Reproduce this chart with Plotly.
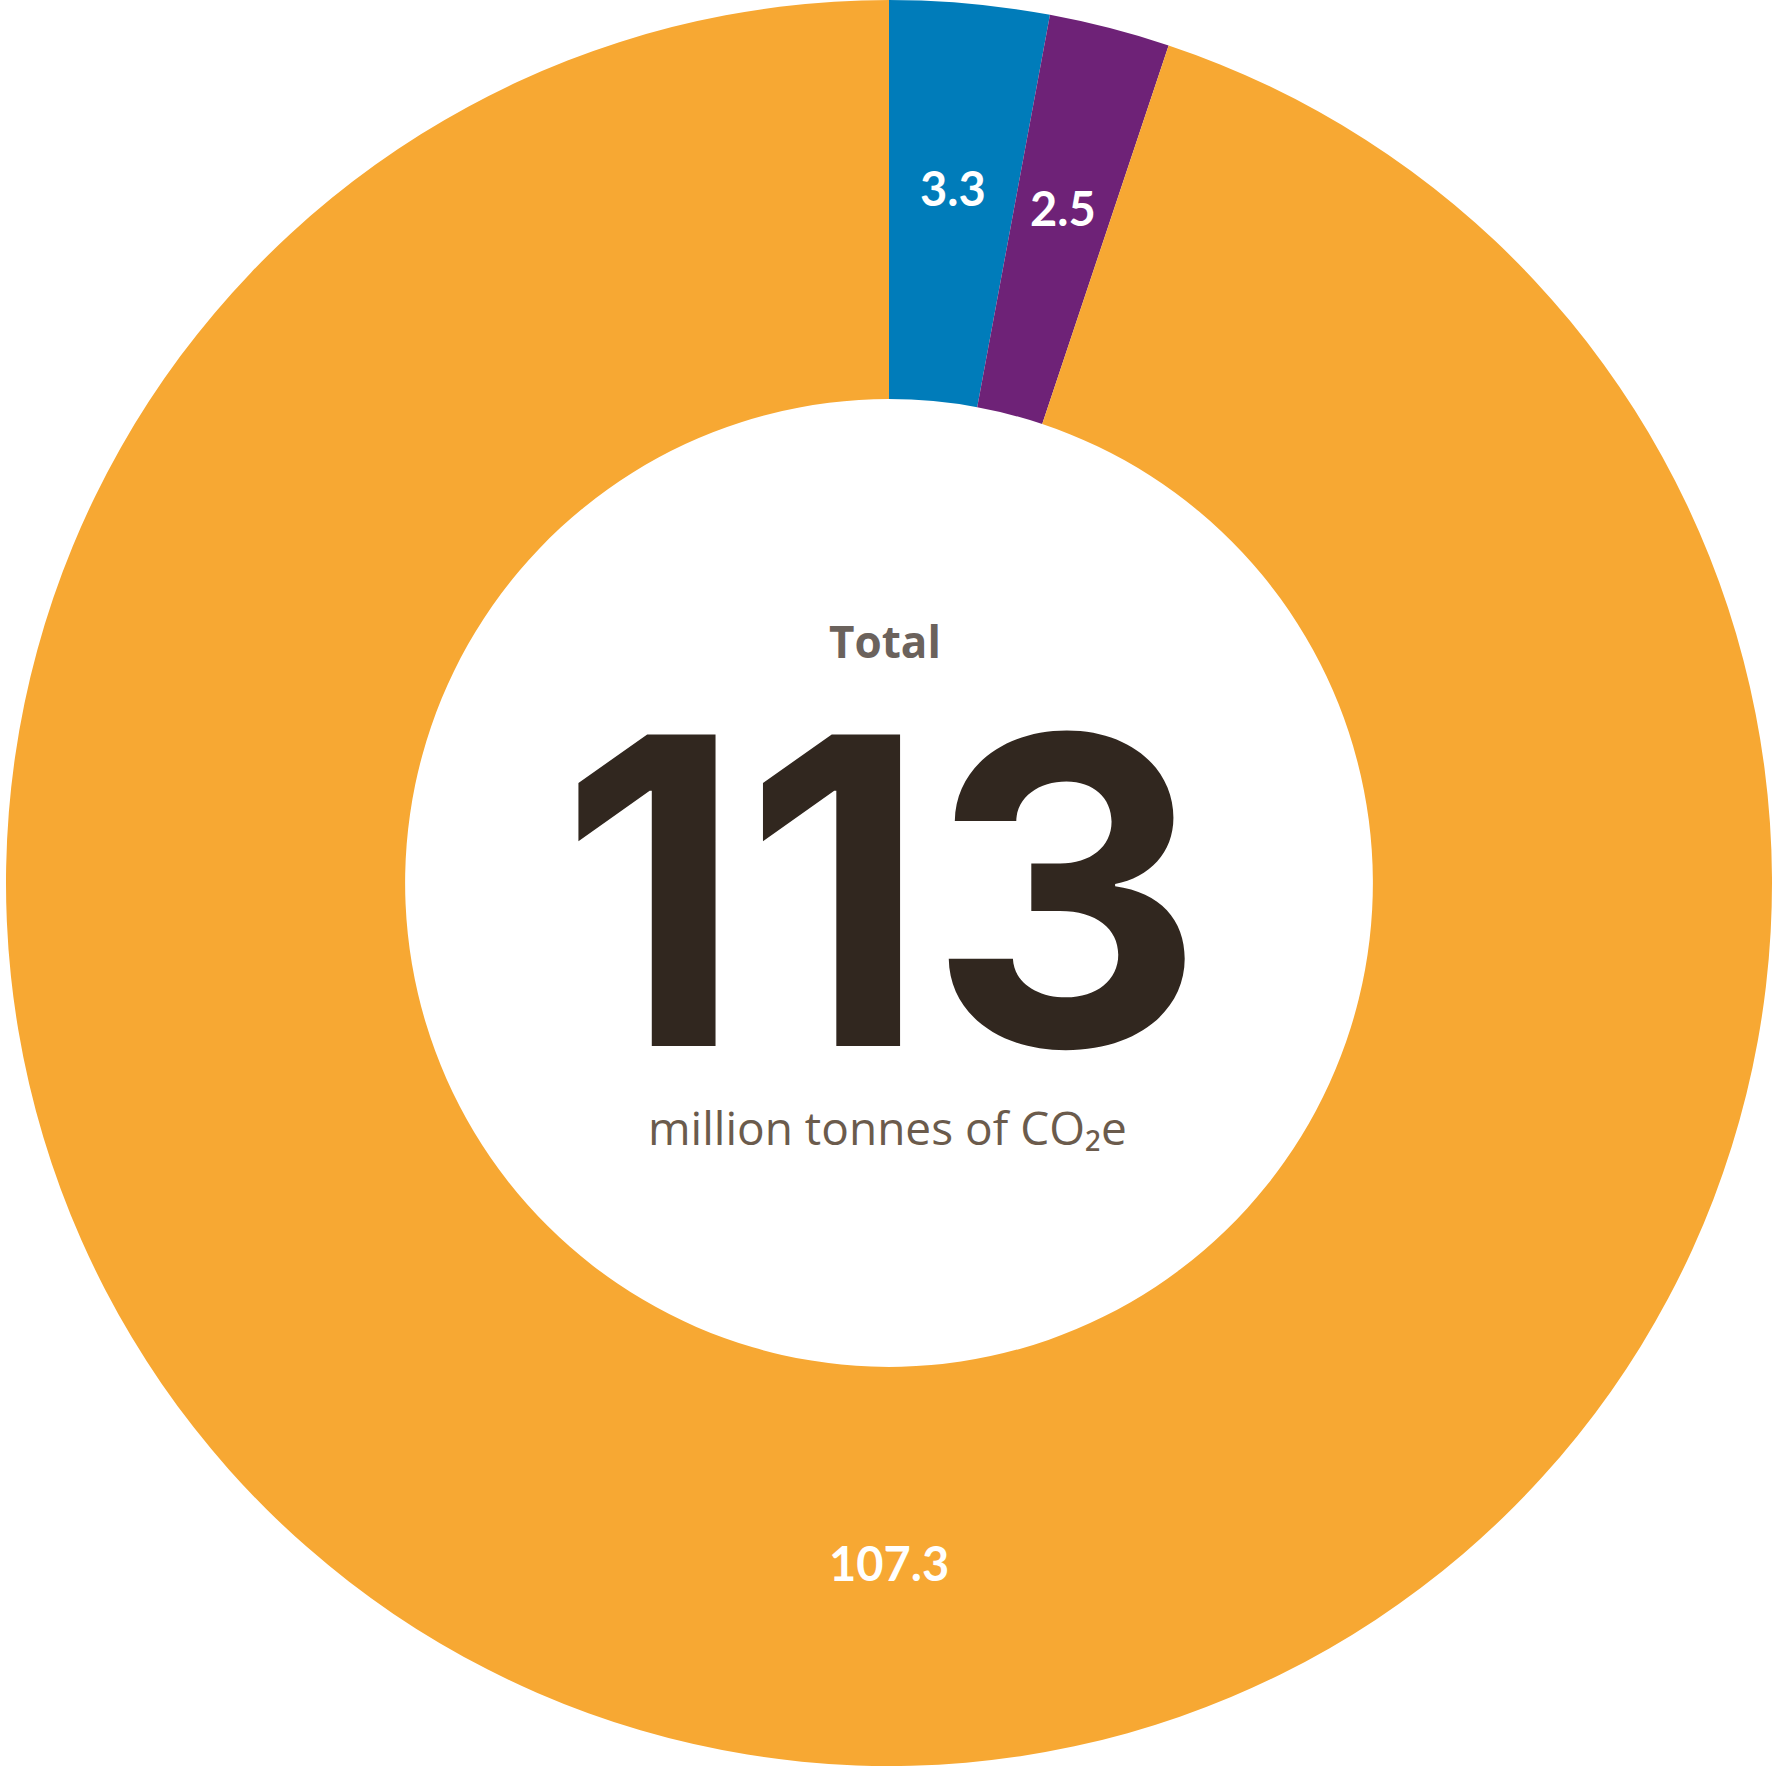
import math
import plotly.graph_objects as go

# Data
categories = ["Category A", "Category B", "Category C"]
values = [3.3, 2.5, 107.3]
colors = ["#007CBA", "#6E2277", "#F7A833"]
label_texts = ["3.3", "2.5", "107.3"]
total_label = "113"

W, H = 1778, 1766
fig = go.Figure(go.Pie(
    labels=categories,
    values=values,
    hole=0.548,
    sort=False,
    direction="clockwise",
    rotation=0,
    marker=dict(colors=colors, line=dict(width=0)),
    textinfo="none",
    hoverinfo="label+value",
    showlegend=False,
))

# Slice labels positioned from the data (mid-angle of each slice)
R = min(W, H) / 2
cx, cy = W / 2, H / 2
tot = sum(values)
cum = 0
annots = []
for v, t in zip(values, label_texts):
    share = v / tot
    mid = (cum + v / 2) / tot * 360
    cum += v
    ang = mid if share < 0.5 else 180
    r = 0.79 * R if share < 0.5 else 0.77 * R
    px = cx + r * math.sin(math.radians(ang))
    py = cy - r * math.cos(math.radians(ang))
    annots.append(dict(
        x=px / W, y=1 - py / H, xref="paper", yref="paper",
        text=t, showarrow=False, xanchor="center", yanchor="middle",
        font=dict(family="Lato", size=47, color="white", weight="bold"),
    ))

annots += [
    dict(x=885 / W, y=1 - 641 / H, xref="paper", yref="paper", text="Total",
         showarrow=False, xanchor="center", yanchor="middle",
         font=dict(family="Open Sans", size=44, color="#6B625C", weight="bold")),
    dict(x=881 / W, y=1 - 890 / H, xref="paper", yref="paper", text=total_label,
         showarrow=False, xanchor="center", yanchor="middle",
         font=dict(family="Inter, Roboto", size=428,
                   color="#31271F", weight="bold")),
    dict(x=887 / W, y=1 - 1127 / H, xref="paper", yref="paper",
         text="million tonnes of CO₂e",
         showarrow=False, xanchor="center", yanchor="middle",
         font=dict(family="Open Sans, DejaVu Sans", size=46, color="#6B5B4C")),
]

fig.update_layout(
    width=W, height=H,
    margin=dict(l=0, r=0, t=0, b=0),
    paper_bgcolor="white",
    plot_bgcolor="white",
    annotations=annots,
)

fig.write_html("out.html", config={"displayModeBar": False},
               post_script="document.body.style.margin='0';document.body.style.overflow='hidden';")
